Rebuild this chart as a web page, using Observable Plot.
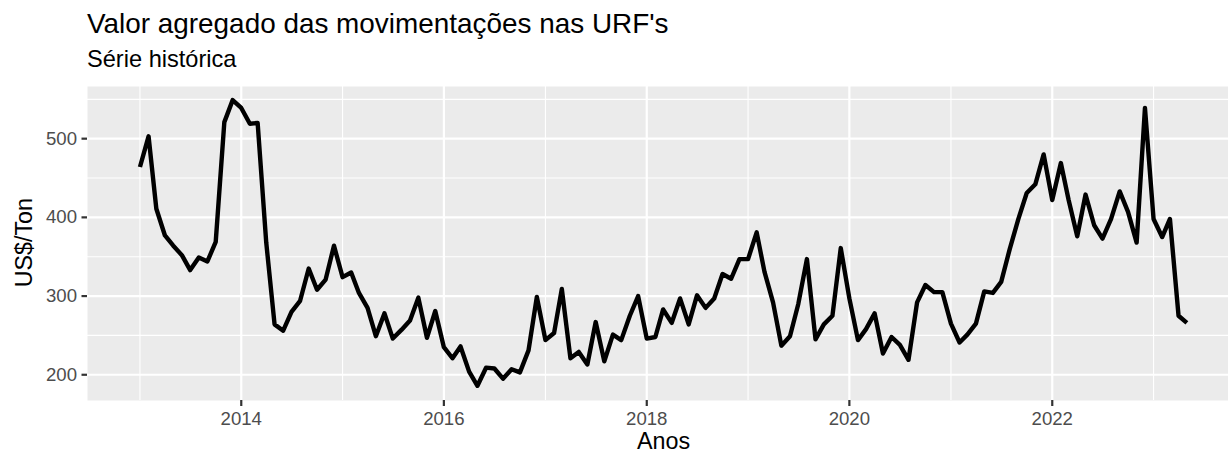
<!DOCTYPE html>
<html>
<head>
<meta charset="utf-8">
<script src="https://cdn.jsdelivr.net/npm/d3@7"></script>
<script src="https://cdn.jsdelivr.net/npm/@observablehq/plot@0.6"></script>
<style>
  html, body { margin: 0; padding: 0; background: #fff; }
  #wrap { position: relative; width: 1228px; height: 453px; overflow: hidden; font-family: "Liberation Sans", Arial, Helvetica, sans-serif; }
  #wrap svg { position: absolute; left: 0; top: 0; }
  .t { position: absolute; white-space: nowrap; color: #000; }
  #title { left: 87px; top: 9.7px; font-size: 27.9px; line-height: 27.9px; }
  #subtitle { left: 87px; top: 48.3px; font-size: 23.6px; line-height: 23.6px; }
  #xlab { left: 563.5px; top: 432px; width: 200px; text-align: center; font-size: 23.3px; line-height: 18px; }
  #ylab { left: -75px; top: 230.85px; width: 200px; height: 23.3px; text-align: center; font-size: 23.3px; line-height: 23.3px; transform: rotate(-90deg); transform-origin: 100px 11.65px; }
</style>
</head>
<body>
<div id="wrap">
  <div class="t" id="title">Valor agregado das movimentações nas URF's</div>
  <div class="t" id="subtitle">Série histórica</div>
  <div class="t" id="xlab">Anos</div>
  <div class="t" id="ylab">US$/Ton</div>
</div>
<script>
// Monthly series starting January 2013 (US$/Ton)
const startYear = 2013;
const values = [
  464, 503, 411, 377, 364, 352, 333, 349, 344, 369, 521, 549, // 2013
  539, 519, 520, 368, 264, 256, 280, 294, 335, 308, 321, 364, // 2014
  324, 330, 304, 285, 249, 278, 246, 257, 269, 298, 247, 281, // 2015
  235, 221, 236, 204, 186, 209, 208, 195, 207, 203, 231, 299, // 2016
  244, 253, 309, 221, 229, 213, 267, 217, 251, 244, 275, 300, // 2017
  246, 248, 283, 266, 297, 264, 301, 285, 297, 328, 322, 347, // 2018
  347, 381, 331, 292, 237, 249, 290, 347, 245, 264, 275, 361, // 2019
  297, 244, 258, 278, 227, 248, 238, 219, 292, 314, 305, 305, // 2020
  265, 241, 251, 265, 306, 304, 318, 360, 398, 431, 442, 480, // 2021
  422, 469, 422, 376, 429, 390, 373, 398, 433, 407, 368, 539, // 2022
  398, 375, 398, 275, 266                                     // 2023
];
const yMajorTicks = [200, 300, 400, 500];
const yMinorTicks = [250, 350, 450, 550];
const xMajorYears = [2014, 2016, 2018, 2020, 2022];
const xMinorYears = [2013, 2015, 2017, 2019, 2021, 2023];

const data = values.map((v, i) => ({ date: new Date(Date.UTC(startYear, i, 1)), value: v }));
const yearDate = y => new Date(Date.UTC(y, 0, 1));
const xMajor = xMajorYears.map(yearDate);
const xMinor = xMinorYears.map(yearDate);

const chart = Plot.plot({
  width: 1228,
  height: 453,
  marginLeft: 87,
  marginRight: 0,
  marginTop: 86,
  marginBottom: 53,
  style: { fontFamily: '"Liberation Sans", Arial, Helvetica, sans-serif', background: "transparent", overflow: "visible" },
  x: { type: "utc", domain: [new Date(Date.UTC(2012, 5, 26)), new Date(Date.UTC(2023, 8, 28))] },
  y: { domain: [167.3, 566.3] },
  marks: [
    Plot.frame({ fill: "#EBEBEB", stroke: "none" }),
    Plot.gridY(yMinorTicks, { stroke: "white", strokeOpacity: 1, strokeWidth: 1.1 }),
    Plot.gridX(xMinor, { stroke: "white", strokeOpacity: 1, strokeWidth: 1.1 }),
    Plot.gridY(yMajorTicks, { stroke: "white", strokeOpacity: 1, strokeWidth: 2.2 }),
    Plot.gridX(xMajor, { stroke: "white", strokeOpacity: 1, strokeWidth: 2.2 }),
    Plot.line(data, { x: "date", y: "value", stroke: "black", strokeWidth: 4.4, strokeLinejoin: "round", strokeLinecap: "butt" }),
    Plot.axisY(yMajorTicks, { tickSize: 5.5, tickPadding: 5, fontSize: 18.6, fill: "#4D4D4D", stroke: "#333333", strokeWidth: 2.2, label: null }),
    Plot.axisX(xMajor, { tickSize: 6, tickPadding: 5, fontSize: 18.6, fill: "#4D4D4D", stroke: "#333333", strokeWidth: 2.2, tickFormat: d3.utcFormat("%Y"), label: null })
  ]
});
document.getElementById("wrap").prepend(chart);
</script>
</body>
</html>
